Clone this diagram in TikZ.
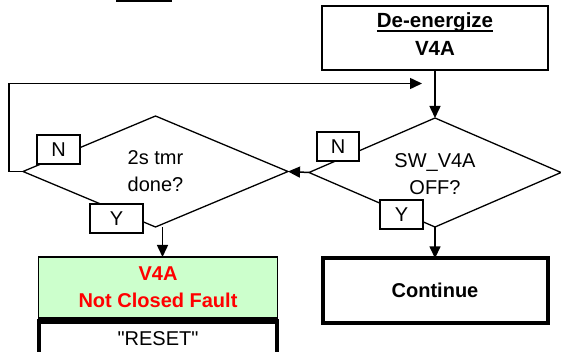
\documentclass[tikz,border=0pt]{standalone}
\usepackage{fontspec}
\setmainfont{Liberation Sans}
\usetikzlibrary{shapes.geometric,arrows.meta,calc}
\definecolor{faultgreen}{HTML}{CCFFCC}
\definecolor{faultred}{HTML}{FF0000}
\newcommand\myul[1]{\setbox0\hbox{#1}\rlap{\rule[-4.5pt]{\wd0}{2pt}}\box0}
\begin{document}
\begin{tikzpicture}[x=1pt,y=-1pt,
  every node/.style={font=\fontsize{20}{27}\selectfont, outer sep=0},
  boxthin/.style={draw, rectangle, inner sep=0, line width=2pt},
  boxthick/.style={draw, rectangle, inner sep=0, line width=4pt},
  dec/.style={diamond, draw, line width=1.3pt, inner sep=0},
  tag/.style={draw, fill=white, line width=1.3pt, inner sep=0, minimum height=29pt},
  conn/.style={line width=1.5pt, -{Triangle[length=12pt,width=11pt]}},
  txt/.style={align=center, inner sep=0},
]
\useasboundingbox (0,0) rectangle (561,352);
\clip (0,0) rectangle (561,352);

% cut-off underline at the top
\fill (116,0) rectangle (172,2.5);

% De-energize box
\node[boxthin, minimum width=226pt, minimum height=64.5pt] (deen) at (435,38.25) {};
\node[txt, font=\fontsize{20.5}{28}\selectfont\bfseries] (deent) at (435,34) {\myul{De-energize}\\V4A};

% decisions
\node[dec, minimum width=252pt, minimum height=109pt] (d1) at (435,172.5) {};
\node[txt] (d1t) at (435,174) {SW\_V4A\\OFF?};
\node[dec, minimum width=265pt, minimum height=111pt] (d2) at (155.5,171.5) {};
\node[txt] (d2t) at (155.5,171.5) {2s tmr\\done?};

% tags
\node[tag, minimum width=42pt] (n1) at (338,146.5) {N};
\node[tag, minimum width=43pt] (y1) at (401.5,214.5) {Y};
\node[tag, minimum width=43pt] (n2) at (58.5,149.5) {N};
\node[tag, minimum width=53pt] (y2) at (116.5,218.5) {Y};

% results
\node[draw, rectangle, fill=faultgreen, line width=1.5pt, inner sep=0,
      minimum width=239pt, minimum height=61pt, txt, text=faultred,
      font=\fontsize{20}{27}\selectfont\bfseries] (fault) at (158,287.5) {V4A\\Not Closed Fault};
\node[boxthick, line width=4.5pt, anchor=north, minimum width=238pt, inner ysep=4pt,
      text height=19.5pt, text depth=40pt] (reset) at (158,321.5) {\textquotedbl RESET\textquotedbl};
\node[boxthick, minimum width=225pt, minimum height=65pt, font=\fontsize{20}{27}\selectfont\bfseries]
      (cont) at (435,290.8) {Continue};

% connectors
\draw[conn] (deen.south) -- (d1.north);
\draw[conn] (d1.west) -- (d2.east);
\draw[conn] (d1.south) -- (cont.north);
\coordinate (a2) at ($(d2.south)+(7,0)$);
\draw[conn] (a2) -- (a2 |- fault.north);
\draw[conn] (d2.west) -- ++(-14,0) |- ($(deen.south)+(-13,13)$);
\end{tikzpicture}
\end{document}
